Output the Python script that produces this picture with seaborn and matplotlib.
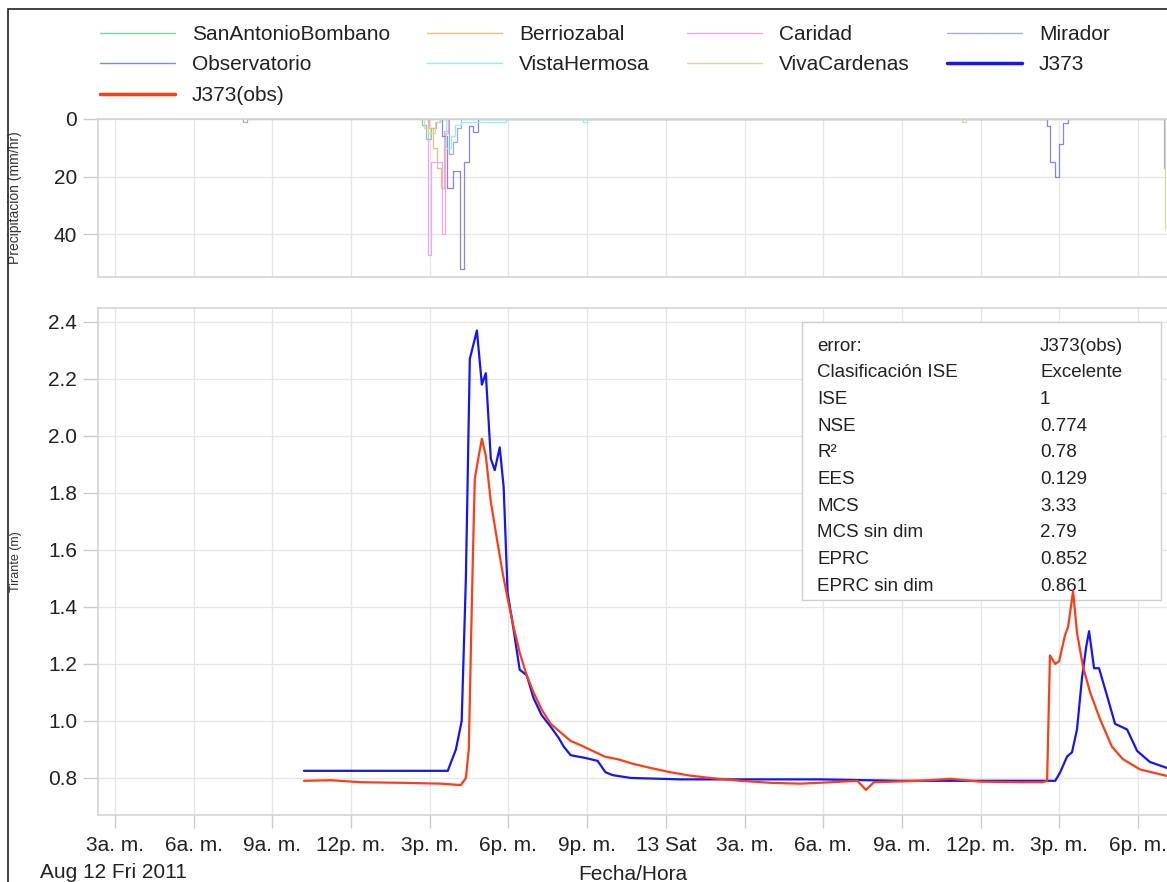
import numpy as np
import pandas as pd
import matplotlib
matplotlib.use('Agg')
import matplotlib.pyplot as plt
import matplotlib.dates as mdates
from matplotlib.lines import Line2D
from matplotlib.patches import Rectangle
import seaborn as sns

# time is given as hours after Aug 12 2011 00:00
base = pd.Timestamp('2011-08-12 00:00')

# J373 simulated depth (m)
sim_h = [10.21, 15.69, 16.0, 16.22, 16.38, 16.53, 16.8, 16.99, 17.14, 17.33, 17.48, 17.67,
         17.82, 17.97, 18.2, 18.43, 18.7, 18.96, 19.27, 19.61, 19.92, 20.11, 20.37, 20.94,
         21.4, 21.7, 21.97, 22.66, 24.56, 27.6, 29.9, 32.9, 36.74, 38.53, 38.84, 39.03,
         39.29, 39.48, 39.67, 39.86, 40.02, 40.13, 40.32, 40.51, 40.81, 41.12, 41.58, 41.96,
         42.45, 43.1]
sim_m = [0.825, 0.825, 0.90, 1.0, 1.5, 2.27, 2.37, 2.18, 2.22, 1.92, 1.88, 1.96,
         1.82, 1.45, 1.32, 1.18, 1.16, 1.08, 1.02, 0.98, 0.94, 0.91, 0.88, 0.87,
         0.86, 0.82, 0.81, 0.80, 0.795, 0.795, 0.795, 0.79, 0.79, 0.79, 0.79, 0.82,
         0.875, 0.89, 0.97, 1.15, 1.26, 1.315, 1.185, 1.185, 1.09, 0.99, 0.97, 0.895,
         0.856, 0.835]

# J373 observed depth (m)
obs_h = [10.21, 11.24, 12.38, 13.9, 15.42, 16.19, 16.38, 16.49, 16.64, 16.72, 16.87, 16.99,
         17.14, 17.33, 17.56, 17.78, 17.97, 18.2, 18.43, 18.7, 18.96, 19.27, 19.61, 19.99,
         20.37, 20.75, 21.21, 21.67, 22.2, 22.73, 23.42, 24.18, 24.94, 25.7, 26.84, 27.99,
         29.13, 30.3, 31.3, 31.63, 31.93, 33.7, 34.85, 35.98, 37.5, 38.38, 38.53, 38.64,
         38.84, 38.99, 39.21, 39.33, 39.52, 39.67, 39.9, 40.17, 40.55, 41.0, 41.42, 42.07,
         43.1]
obs_m = [0.79, 0.792, 0.785, 0.783, 0.78, 0.775, 0.80, 0.90, 1.55, 1.85, 1.93, 1.99,
         1.93, 1.77, 1.64, 1.52, 1.43, 1.33, 1.24, 1.16, 1.10, 1.04, 0.99, 0.96,
         0.93, 0.915, 0.895, 0.875, 0.865, 0.85, 0.835, 0.82, 0.808, 0.80, 0.79, 0.783,
         0.78, 0.785, 0.79, 0.758, 0.785, 0.79, 0.797, 0.787, 0.785, 0.785, 0.79, 1.23,
         1.20, 1.21, 1.30, 1.33, 1.455, 1.31, 1.19, 1.10, 1.006, 0.91, 0.866, 0.83,
         0.807]

# rain gauges, step values (mm/hr)
sanantonio_h = [14.6, 14.7, 14.85, 15.05, 15.25, 15.4]
sanantonio_v = [0, 2, 7, 3, 1, 0]
berriozabal_h = [14.9, 14.97, 15.12, 15.27, 15.42, 15.55, 15.7]
berriozabal_v = [0, 3, 10, 17, 24, 4, 0]
caridad_h = [14.8, 14.93, 15.04, 15.46, 15.58, 15.69]
caridad_v = [0, 47, 15, 40, 5, 0]
mirador_h = [7.8, 7.9, 8.05, 15.6, 15.73, 15.9, 16.05, 16.2, 42.9, 42.97]
mirador_v = [0, 1.2, 0, 0, 12, 8, 3, 0, 0, 17]
observatorio_h = [15.3, 15.46, 15.65, 15.88, 16.15, 16.30, 16.49, 16.64, 16.83,
                  38.4, 38.53, 38.64, 38.83, 38.99, 39.14, 39.33]
observatorio_v = [0, 6, 24, 18, 52, 15, 2.5, 4.5, 0,
                  0, 2.4, 15, 20, 8.6, 1.4, 0]
vistahermosa_h = [15.5, 15.62, 15.8, 15.95, 16.2, 17.9, 20.7, 20.85, 21.0]
vistahermosa_v = [0, 10, 6, 2, 1, 0, 0, 1.2, 0]
vivacardenas_h = [14.7, 14.8, 14.95, 15.2, 15.4, 35.2, 35.3, 35.45, 42.95, 43.02]
vivacardenas_v = [0, 3, 5, 1, 0, 0, 1, 0, 0, 38]

stations = ['SanAntonioBombano', 'Berriozabal', 'Caridad', 'Mirador',
            'Observatorio', 'VistaHermosa', 'VivaCardenas']
rain = [(sanantonio_h, sanantonio_v), (berriozabal_h, berriozabal_v),
        (caridad_h, caridad_v), (mirador_h, mirador_v),
        (observatorio_h, observatorio_v), (vistahermosa_h, vistahermosa_v),
        (vivacardenas_h, vivacardenas_v)]
rain_colors = ['#70d8a4', '#f6bb80', '#f2a6f2', '#a8a8f6', '#8585ec', '#8ef0f0', '#d8d8a6']

stat_names = ['error:', 'Clasificación ISE', 'ISE', 'NSE', 'R²', 'EES', 'MCS',
              'MCS sin dim', 'EPRC', 'EPRC sin dim']
stat_values = ['J373(obs)', 'Excelente', '1', '0.774', '0.78', '0.129', '3.33',
               '2.79', '0.852', '0.861']


def to_time(hours):
    return base + pd.to_timedelta(hours, unit='h')


sns.set_style('white')
plt.rcParams['font.family'] = ['Liberation Sans', 'DejaVu Sans']

W, H = 1167, 882
fig = plt.figure(figsize=(W / 100, H / 100), dpi=100)
ax_p = fig.add_axes([98 / W, 1 - 277 / H, 1 - 98 / W, (277 - 119) / H])
ax = fig.add_axes([98 / W, 1 - 815 / H, 1 - 98 / W, (815 - 308) / H])

grid_c = '#e6e6e6'
spine_c = '#d4d4d4'
label_x = (22 - 98) / (W - 98)   # y labels sit near the left frame

# precipitation panel
for (h, v), c in zip(rain, rain_colors):
    sns.lineplot(x=to_time(h), y=v, ax=ax_p, color=c, lw=0.9, drawstyle='steps-post')
ax_p.set_ylim(54.8, 0)
ax_p.set_yticks([0, 20, 40])
ax_p.set_ylabel('Precipitación (mm/hr)', fontsize=10, color='#333333')
ax_p.yaxis.set_label_coords(label_x, 0.5)

# depth panel
sns.lineplot(x=to_time(sim_h), y=sim_m, ax=ax, color='#1414ff', lw=1.6, zorder=3)
sns.lineplot(x=to_time(obs_h), y=obs_m, ax=ax, color='#ff3c14', lw=1.6, zorder=3)
ax.set_ylim(0.67, 2.449)
ax.set_yticks([0.8, 1.0, 1.2, 1.4, 1.6, 1.8, 2.0, 2.2, 2.4])
ax.yaxis.set_major_formatter(matplotlib.ticker.FormatStrFormatter('%.1f'))
ax.set_ylabel('Tirante (m)', fontsize=9, color='#333333')
ax.yaxis.set_label_coords(label_x, 0.5)


def hour_label(x, pos):
    d = mdates.num2date(x)
    if d.hour == 0:
        return d.strftime('%d %a')
    h = d.hour % 12 or 12
    return f"{h}{'a' if d.hour < 12 else 'p'}. m."


for a in (ax_p, ax):
    a.set_xlim(to_time(2.36), to_time(43.1))
    a.xaxis.set_major_locator(mdates.HourLocator(byhour=range(0, 24, 3)))
    a.grid(True, color=grid_c, lw=1)
    a.set_axisbelow(True)
    for s in ('left', 'top', 'bottom'):
        a.spines[s].set_color(spine_c)
        a.spines[s].set_linewidth(1.2)
    a.spines['right'].set_visible(False)
    a.tick_params(axis='y', left=True, length=11, width=1, color='#cccccc', pad=4,
                  labelsize=15, labelcolor='#222222')

ax_p.set_xlabel('')
ax_p.tick_params(axis='x', bottom=False, labelbottom=False)
ax.xaxis.set_major_formatter(matplotlib.ticker.FuncFormatter(hour_label))
ax.tick_params(axis='x', bottom=True, length=9, width=1, color='#cccccc', pad=6,
               labelsize=15, labelcolor='#222222')
ax.set_xlabel('Fecha/Hora', fontsize=15, color='#222222', labelpad=7)
fig.text(40 / W, 1 - 873 / H, 'Aug 12 Fri 2011', fontsize=15, color='#222222', va='center')

# statistics box
ax.add_patch(Rectangle((0.6586, 0.424), 0.336, 0.5484, transform=ax.transAxes,
                       facecolor='white', edgecolor='#cfcfcf', lw=1, zorder=1.5))
for i, (n, v) in enumerate(zip(stat_names, stat_values)):
    y = 0.925 - i * 0.05266
    ax.text(0.6726, y, n, transform=ax.transAxes, fontsize=13.5, va='center', color='#222222', zorder=2)
    ax.text(0.8812, y, v, transform=ax.transAxes, fontsize=13.5, va='center', color='#222222', zorder=2)

# legend, ordered so that matplotlib's column filling reads row by row
labels = stations + ['J373', 'J373(obs)']
colors = rain_colors + ['#1414ff', '#ff3c14']
widths = [1] * 7 + [2.5, 2.5]
handles = [Line2D([], [], color=c, lw=w) for c, w in zip(colors, widths)]
order = [0, 4, 8, 1, 5, 2, 6, 3, 7]
fig.legend([handles[i] for i in order], [labels[i] for i in order], ncol=4,
           loc='upper left', bbox_to_anchor=(100 / W, 1 - 25 / H), frameon=False,
           fontsize=15, handlelength=3.6, handletextpad=0.8, columnspacing=1.8,
           labelspacing=0.55, borderpad=0, borderaxespad=0, labelcolor='#222222')

# outer frame
fig.add_artist(Rectangle((8 / W, -0.1), 2, 1 - 9 / H + 0.1, transform=fig.transFigure,
                         fill=False, edgecolor='#222222', lw=1.2))

fig.savefig('out.png', dpi=100)
